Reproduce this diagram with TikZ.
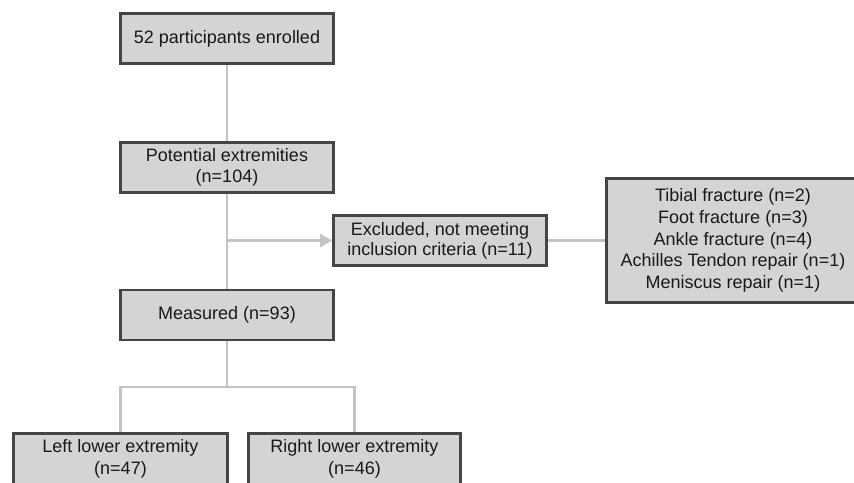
\documentclass[tikz,border=0pt]{standalone}
\usepackage{fontspec}
\setmainfont{Liberation Sans}
\usetikzlibrary{arrows.meta}
\definecolor{boxfill}{HTML}{D4D4D4}
\definecolor{boxdraw}{HTML}{454545}
\definecolor{linkcol}{HTML}{C4C4C4}
\tikzset{
  flowbox/.style={draw=boxdraw, fill=boxfill, line width=2.6pt, rectangle,
    inner sep=0pt, align=center, font=\fontsize{18}{21.6}\selectfont, text=black!90},
  link/.style={draw=linkcol, line width=2.2pt},
  linkarrow/.style={link, -{Triangle[length=12pt,width=13pt,fill=linkcol]}}
}
\begin{document}
\begin{tikzpicture}[x=1pt,y=-1pt]
\useasboundingbox (0,0) rectangle (854,482);
\clip (0,0) rectangle (854,482);
\node[flowbox, minimum width=213pt, minimum height=50pt] (b1) at (227,38.5) {52 participants enrolled};
\node[flowbox, minimum width=213pt, minimum height=50pt] (b2) at (227,167.5) {Potential extremities\\(n=104)};
\node[flowbox, minimum width=213pt, minimum height=50pt] (b3) at (227,315) {Measured (n=93)};
\node[flowbox, minimum width=213pt, minimum height=50pt, font=\fontsize{18}{20}\selectfont] (ex) at (440,240.5) {Excluded, not meeting\\inclusion criteria (n=11)};
\node[flowbox, minimum width=253pt, minimum height=124pt] (rb) at (733,240.5) {Tibial fracture (n=2)\\Foot fracture (n=3)\\Ankle fracture (n=4)\\Achilles Tendon repair (n=1)\\Meniscus repair (n=1)};
\node[flowbox, minimum width=214pt, minimum height=51pt] (bl) at (120.5,459) {Left lower extremity\\(n=47)};
\node[flowbox, minimum width=212pt, minimum height=51pt] (br) at (354.5,459) {Right lower extremity\\(n=46)};
\coordinate (j1) at (227,240.5);
\coordinate (j2) at (227,387);
\draw[link] (b1.south) -- (b2.north);
\draw[link] (b2.south) -- (b3.north);
\draw[linkarrow] (j1) -- (ex.west);
\draw[link] (ex.east) -- (rb.west);
\draw[link] (b3.south) -- (j2);
\draw[link] (j2) -| (bl.north);
\draw[link] (j2) -| (br.north);
\end{tikzpicture}
\end{document}
